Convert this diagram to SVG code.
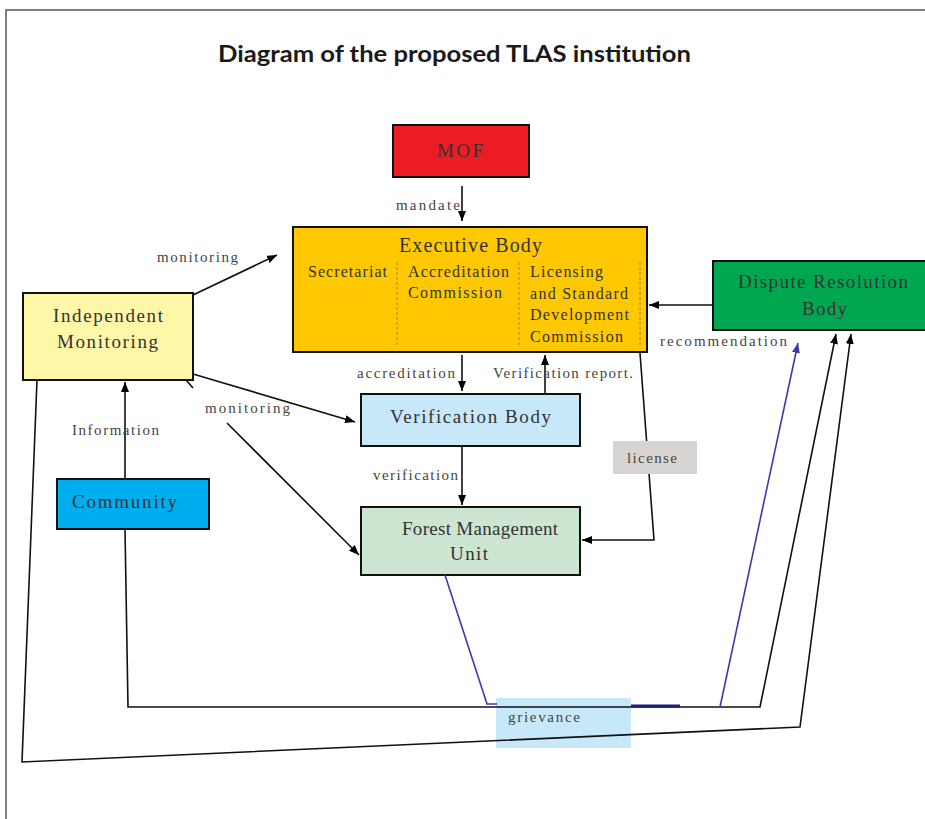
<svg xmlns="http://www.w3.org/2000/svg" width="925" height="819" viewBox="0 0 925 819">
<defs>
<marker id="ah" markerWidth="10" markerHeight="8" refX="10" refY="4" orient="auto" markerUnits="userSpaceOnUse"><path d="M0,0 L10,4 L0,8 Z" fill="#000"/></marker>
<marker id="ahb" markerWidth="10" markerHeight="8" refX="10" refY="4" orient="auto" markerUnits="userSpaceOnUse"><path d="M0,0 L10,4 L0,8 Z" fill="#3a3aa8"/></marker>
<style>
.box{stroke:#111;stroke-width:2}
.nt{font-family:"Liberation Serif","Times New Roman",serif;fill:#333}
.lb{font-family:"Liberation Serif","Times New Roman",serif;font-size:15px;fill:#444}
.ln{fill:none;stroke:#111;stroke-width:1.6}
.blue{fill:none;stroke:#3a3aa8;stroke-width:1.6}
.div{stroke:#a08a40;stroke-width:1;stroke-dasharray:3,2}
</style>
</defs>
<rect width="925" height="819" fill="#fff"/>
<path d="M6,819 V10 H925" fill="none" stroke="#555" stroke-width="1.5"/>
<text x="218" y="62" textLength="473" lengthAdjust="spacingAndGlyphs" font-family="Lato,'Open Sans',sans-serif" font-weight="bold" font-size="22" fill="#1a1a1a">Diagram of the proposed TLAS institution</text>

<g id="grievance-box"><rect x="496" y="698" width="135" height="50" fill="#C6E8F8"/><text class="lb" x="508" y="722" textLength="72" fill="#555">grievance</text></g>

<g id="mof"><rect class="box" x="393" y="125" width="136" height="52" fill="#ED1C24"/><text class="nt" x="437" y="157" font-size="19" textLength="46">MOF</text></g>

<g id="executive-body"><rect class="box" x="293" y="227" width="354" height="125" fill="#FFC800"/>
<text class="nt" x="399" y="252" font-size="20" textLength="143">Executive Body</text>
<line class="div" x1="397" y1="262" x2="397" y2="345"/><line class="div" x1="519" y1="262" x2="519" y2="345"/><line class="div" x1="640" y1="262" x2="640" y2="345"/>
<text class="nt" x="308" y="277" font-size="16" textLength="79">Secretariat</text>
<text class="nt" x="408" y="277" font-size="16" textLength="101">Accreditation</text>
<text class="nt" x="408" y="298" font-size="16" textLength="94" fill="#666">Commission</text>
<text class="nt" x="530" y="277" font-size="16" textLength="73">Licensing</text>
<text class="nt" x="530" y="299" font-size="16" textLength="98">and Standard</text>
<text class="nt" x="530" y="320" font-size="16" textLength="99" fill="#6a5a40">Development</text>
<text class="nt" x="530" y="342" font-size="16" textLength="93">Commission</text>
</g>

<g id="dispute-resolution-body"><rect class="box" x="713" y="261" width="214" height="69" fill="#00A650"/>
<text class="nt" x="738" y="288" font-size="19" textLength="170" fill="#3a3a3a">Dispute Resolution</text>
<text class="nt" x="802" y="315" font-size="19" textLength="45" fill="#3a3a3a">Body</text></g>

<g id="independent-monitoring"><rect class="box" x="23" y="293" width="170" height="87" fill="#FFF7A8"/>
<text class="nt" x="53" y="322" font-size="19" textLength="110">Independent</text>
<text class="nt" x="57" y="348" font-size="19" textLength="101">Monitoring</text></g>

<g id="community"><rect class="box" x="57" y="479" width="152" height="50" fill="#00AEEF"/>
<text class="nt" x="72" y="508" font-size="19" textLength="105">Community</text></g>

<g id="verification-body"><rect class="box" x="361" y="394" width="219" height="52" fill="#C6E8F8"/>
<text class="nt" x="390" y="423" font-size="19" textLength="161" fill="#444">Verification Body</text></g>

<g id="forest-management-unit"><rect class="box" x="361" y="507" width="219" height="68" fill="#CCE6D2"/>
<text class="nt" x="402" y="535" font-size="19" textLength="156" fill="#444">Forest Management</text>
<text class="nt" x="450" y="560" font-size="19" textLength="38" fill="#444">Unit</text></g>

<g id="connectors">
<line class="ln" x1="462" y1="186" x2="462" y2="221" marker-end="url(#ah)"/>
<line class="ln" x1="462" y1="355" x2="462" y2="391" marker-end="url(#ah)"/>
<line class="ln" x1="545" y1="394" x2="545" y2="355" marker-end="url(#ah)"/>
<line class="ln" x1="462" y1="447" x2="462" y2="505" marker-end="url(#ah)"/>
<polyline class="ln" points="640,353 654,540 582,540" marker-end="url(#ah)"/>
<line class="ln" x1="713" y1="305" x2="649" y2="305" marker-end="url(#ah)"/>
<line class="ln" x1="193" y1="295" x2="277" y2="255" marker-end="url(#ah)"/>
<line class="ln" x1="193" y1="374" x2="355" y2="422" marker-end="url(#ah)"/>
<line class="ln" x1="186" y1="380" x2="193" y2="388"/>
<line class="ln" x1="227" y1="423" x2="359" y2="555" marker-end="url(#ah)"/>
<line class="ln" x1="125" y1="479" x2="125" y2="382" marker-end="url(#ah)"/>
<polyline class="ln" points="125,529 128,707 760,707 836,334" marker-end="url(#ah)"/>
<polyline class="ln" points="37,380 22,762 800,727 851,334" marker-end="url(#ah)"/>
<polyline class="blue" points="445,575 487,704 497,704"/>
<line x1="631" y1="706" x2="680" y2="706" stroke="#1f1f7a" stroke-width="3"/>
<line class="blue" x1="720" y1="707" x2="798" y2="343" marker-end="url(#ahb)"/>
</g>

<g id="license-label"><rect x="613" y="441" width="84" height="33" fill="#D8D4D2"/><text class="lb" x="627" y="463" textLength="50">license</text></g>
<g id="labels">
<text class="lb" x="396" y="210" textLength="64">mandate</text>
<text class="lb" x="157" y="262" textLength="81">monitoring</text>
<text class="lb" x="205" y="413" textLength="85">monitoring</text>
<text class="lb" x="72" y="435" textLength="87" fill="#666">Information</text>
<text class="lb" x="357" y="378" textLength="98">accreditation</text>
<text class="lb" x="493" y="378" textLength="140">Verification report.</text>
<text class="lb" x="373" y="480" textLength="85">verification</text>
<text class="lb" x="660" y="346" textLength="127">recommendation</text>
</g>
</svg>
